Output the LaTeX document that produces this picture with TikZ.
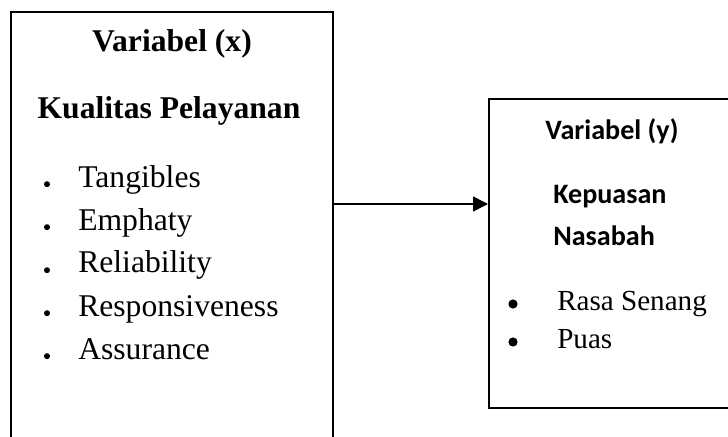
\documentclass[tikz,border=0pt]{standalone}
\usepackage{fontspec}
\setmainfont{Liberation Serif}
\newfontfamily\calibrifont{Carlito}
\usetikzlibrary{arrows.meta}

\begin{document}
\begin{tikzpicture}[
		varbox/.style={draw, line width=1.2pt, inner sep=0pt, anchor=north west},
		bigtext/.style={inner sep=0pt, font=\fontsize{22.5}{27}\selectfont},
		ytext/.style={inner sep=0pt, font=\fontsize{20}{24}\calibrifont\bfseries},
		itemtext/.style={inner sep=0pt, font=\fontsize{20.7}{25}\selectfont}
	]
			%%%%% START %%%%%
			
			\useasboundingbox (0, 0) rectangle (18.2, 10.9);
			
			\node[varbox, minimum width=8.05cm, minimum height=11.6cm] (xbox) at (0.25, 10.625) {};
			\node[varbox, minimum width=6.6cm, minimum height=7.725cm] (ybox) at (12.2, 8.45) {};
			
			\node[bigtext, anchor=base, font=\fontsize{22.5}{27}\selectfont\bfseries] (xtitle) at (4.3, 9.6) {Variabel (x)};
			\node[bigtext, anchor=base, font=\fontsize{22.5}{27}\selectfont\bfseries] (xname) at (4.225, 7.95) {Kualitas Pelayanan};
			
			\foreach \name [count=\i] in {Tangibles, Emphaty, Reliability, Responsiveness, Assurance} {
				\node[bigtext, anchor=base west] (xitem\i) at (1.95, {6.225 - 1.075*(\i-1)}) {\name};
				\fill (1.175, {6.295 - 1.075*(\i-1)}) circle (0.075);
			}
			
			\node[ytext, anchor=base] (ytitle) at (15.3, 7.425) {Variabel (y)};
			\node[ytext, anchor=base west] (yname1) at (13.825, 5.825) {Kepuasan};
			\node[ytext, anchor=base west] (yname2) at (13.825, 4.775) {Nasabah};
			
			\node[itemtext, anchor=base west] (yitem1) at (13.925, 3.15) {Rasa Senang};
			\node[itemtext, anchor=base west] (yitem2) at (13.925, 2.2) {Puas};
			\fill (12.825, 3.3) circle (0.115);
			\fill (12.825, 2.35) circle (0.115);
			
			\coordinate (link) at (10, 5.8);
			\draw[line width=1pt, -{Triangle[length=0.375cm, width=0.375cm]}] (xbox.east |- link) -- (ybox.west |- link);
			
			%%%%% END %%%%%
\end{tikzpicture}
\end{document}
